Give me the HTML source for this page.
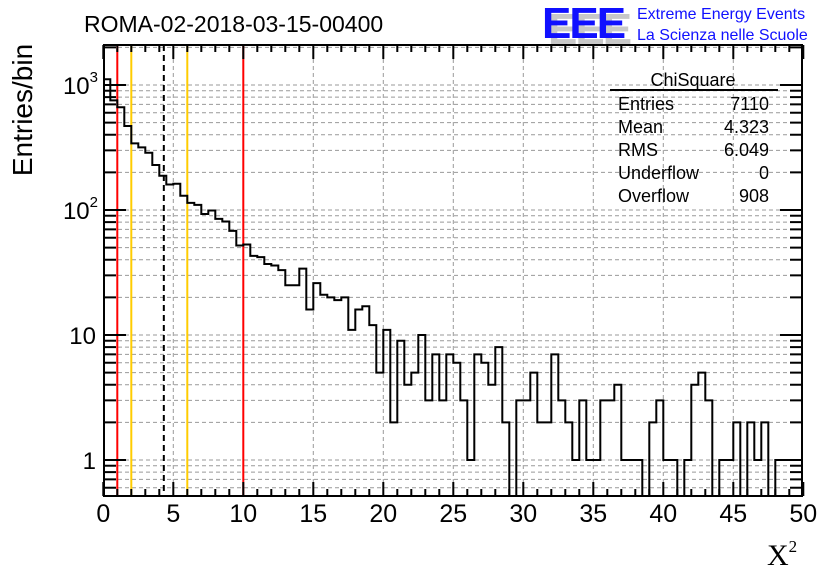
<!DOCTYPE html>
<html><head><meta charset="utf-8"><style>
html,body{margin:0;padding:0;background:#fff;}
svg{display:block;font-family:"Liberation Sans",Arial,sans-serif;}
</style></head><body>
<svg id="chart" width="836" height="572" viewBox="0 0 836 572">
<defs><clipPath id="pc"><rect x="104" y="45" width="698" height="451"/></clipPath></defs>
<g id="grid"></g>
<g id="lines" clip-path="url(#pc)"></g>
<path id="hist" clip-path="url(#pc)" fill="none" stroke="#000" stroke-width="2"/>
<rect x="104" y="45" width="698" height="451" fill="none" stroke="#000" stroke-width="2"/>
<g id="axes"></g>
<text x="84" y="32" font-size="23">ROMA-02-2018-03-15-00400</text>
<g>
<text x="548" y="44" font-size="44" font-weight="bold" fill="#c8c8c8" letter-spacing="-2">EEE</text>
<text x="542" y="38" font-size="44" font-weight="bold" fill="#1010ff" letter-spacing="-2">EEE</text>
<text x="637" y="19" font-size="16" fill="#1010ff">Extreme Energy Events</text>
<text x="637" y="40" font-size="16" fill="#1010ff">La Scienza nelle Scuole</text>
</g>
<g font-size="18">
<text x="693" y="86" text-anchor="middle">ChiSquare</text>
<line x1="610" y1="90" x2="778" y2="90" stroke="#000" stroke-width="2"/>
<text x="618" y="110">Entries</text><text x="769" y="110" text-anchor="end">7110</text>
<text x="618" y="133">Mean</text><text x="769" y="133" text-anchor="end">4.323</text>
<text x="618" y="156">RMS</text><text x="769" y="156" text-anchor="end">6.049</text>
<text x="618" y="179">Underflow</text><text x="769" y="179" text-anchor="end">0</text>
<text x="618" y="202">Overflow</text><text x="769" y="202" text-anchor="end">908</text>
</g>
<text transform="translate(32,110) rotate(-90)" text-anchor="middle" font-size="28">Entries/bin</text>
<text x="767" y="565" font-size="30" font-family="Liberation Serif,serif">X<tspan font-size="17" dy="-13">2</tspan></text>
</svg>
<script>
const counts=[1111,754,663,470,341,317,287,229,188,160,162,130,114,110,93,99,85,81,68,52,53,43,42,37,36,33,25,25,34,16,26,21,20,19,20,11,16,17,12,5,11,2,9,4,5,10,3,7,3,7,6,3,1,7,6,4,8,2,0,3,3,5,2,2,7,3,2,1,3,1,1,3,3,4,1,1,1,0,2,3,1,1,0,1,4,5,3,0,1,1,2,0,2,1,2,0,1,1,1,1];
const binWidth=0.5;
const xTicks=[0,5,10,15,20,25,30,35,40,45,50];
const yTickValues=[1,10,100,1000];
const yTickLabels=["1","10","10²","10³"];
const refLines=[[1,"#ff0000",false],[2,"#ffcc00",false],[6,"#ffcc00",false],[10,"#ff0000",false],[4.323,"#000",true]];
const X0=103.3,XS=14,YB=460,YS=125,BOT=496,TOP=45;
const sx=v=>X0+v*XS;
const sy=v=>v<=0?BOT+5:YB-Math.log10(v)*YS;
const NS="http://www.w3.org/2000/svg";
function mk(t,a,p){const e=document.createElementNS(NS,t);for(const k in a)e.setAttribute(k,a[k]);p.appendChild(e);return e;}
const grid=document.getElementById('grid'),axes=document.getElementById('axes'),lines=document.getElementById('lines');
xTicks.forEach(t=>{if(t>0&&t<50){const g=mk('line',{x1:sx(t),x2:sx(t),y1:TOP,y2:BOT,stroke:'#999','stroke-dasharray':'4,3'},grid);

}});
for(let d=-1;d<=3;d++){for(let m=1;m<=9;m++){const v=m*Math.pow(10,d);const y=sy(v);if(y<TOP||y>BOT)continue;
const g=mk('line',{x1:104,x2:802,y1:y,y2:y,stroke:'#999','stroke-dasharray':'4,3'},grid);


const L=m===1?22:12;
mk('line',{x1:104,x2:104+L,y1:y,y2:y,stroke:'#000','stroke-width':2},axes);
mk('line',{x1:802-L,x2:802,y1:y,y2:y,stroke:'#000','stroke-width':2},axes);}}
yTickValues.forEach((v,i)=>{const t=mk('text',{x:96,y:sy(v)+9,'text-anchor':'end','font-size':24},axes);t.textContent=yTickLabels[i].replace(/[²³]/,'');
if(/[²³]/.test(yTickLabels[i])){const s=mk('tspan',{'font-size':15,dy:-12},t);s.textContent=yTickLabels[i].includes('²')?'2':'3';t.setAttribute('x',98);}

});
for(let v=0;v<=50;v+=1){const L=v%5===0?14:7;
mk('line',{x1:sx(v),x2:sx(v),y1:BOT,y2:BOT-L,stroke:'#000','stroke-width':2},axes);
mk('line',{x1:sx(v),x2:sx(v),y1:TOP,y2:TOP+L,stroke:'#000','stroke-width':2},axes);}
xTicks.forEach(t=>{const e=mk('text',{x:sx(t),y:522,'text-anchor':'middle','font-size':25},axes);e.textContent=t;

});
refLines.forEach(r=>{const a={x1:sx(r[0]),x2:sx(r[0]),y1:TOP,y2:BOT,stroke:r[1],'stroke-width':2};if(r[2])a['stroke-dasharray']='6,4';
const l=mk('line',a,lines);

});
let d='M'+sx(0)+','+(BOT+5);
counts.forEach((c,i)=>{const y=sy(c);d+=' L'+sx(i*binWidth)+','+y+' L'+sx((i+1)*binWidth)+','+y;});
d+=' L'+sx(counts.length*binWidth)+','+(BOT+5);
document.getElementById('hist').setAttribute('d',d);
</script>
</body></html>
